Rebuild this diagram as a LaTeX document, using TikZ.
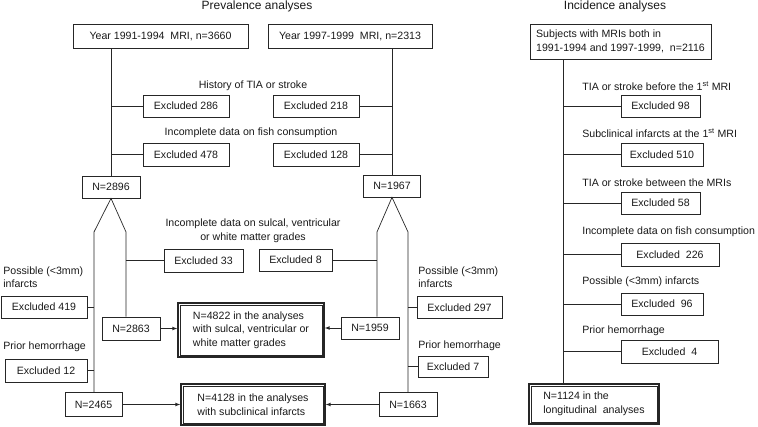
\documentclass[tikz,border=0pt]{standalone}
\usepackage{fontspec}
\setmainfont{Liberation Sans}
\usetikzlibrary{arrows,positioning,calc}

\tikzset{
  txt/.style={font=\fontsize{10.6}{13.5}\selectfont, text=black!90},
  box/.style={txt, draw=black!85, line width=0.7pt, minimum height=22, inner sep=2pt},
  final/.style={txt, draw=black!85, line width=1.4pt, align=left, inner sep=2pt},
  lbl/.style={txt, inner sep=0pt, align=left, anchor=west},
}

\begin{document}
\begin{tikzpicture}[x=1pt, y=-1pt, line width=0.7pt, draw=black!85, >=latex]
    % the canvas
    \useasboundingbox (0,0) rectangle (758,427);

    % titles
    \node[txt, font=\fontsize{12}{14}\selectfont] (tprev) at (257,6) {Prevalence analyses};
    \node[txt, font=\fontsize{12}{14}\selectfont] (tinc)  at (615,6) {Incidence analyses};

    % start boxes
    \node[box, minimum width=175, minimum height=24] (y1991) at (160.5,36) {Year 1991-1994\ \ MRI, n=3660};
    \node[box, minimum width=164, minimum height=24] (y1997) at (350,36) {Year 1997-1999\ \ MRI, n=2313};

    % first exclusions
    \node[txt] (hist) at (253,86) {History of TIA or stroke};
    \node[box, minimum width=86] (ex286) at (186,106) {Excluded 286};
    \node[box, minimum width=86] (ex218) at (316,106) {Excluded 218};
    \node[txt] (fish) at (251,133) {Incomplete data on fish consumption};
    \node[box, minimum width=86, minimum height=23] (ex478) at (186,154.5) {Excluded 478};
    \node[box, minimum width=86, minimum height=23] (ex128) at (316,154.5) {Excluded 128};

    \node[box, minimum width=58] (n2896) at (111,187) {N=2896};
    \node[box, minimum width=57] (n1967) at (392,186) {N=1967};

    % split branches
    \coordinate (la) at (94,232);
    \coordinate (lb) at (126,232);
    \coordinate (ra) at (377,232);
    \coordinate (rb) at (408,232);

    \node[txt, align=center] (sulc) at (253,231) {Incomplete data on sulcal, ventricular\\or white matter grades};
    \node[box, minimum width=79, minimum height=23] (ex33) at (203.5,260.5) {Excluded 33};
    \node[box, minimum width=73] (ex8) at (295.5,260) {Excluded 8};

    \node[lbl] (possl) at (3,277) {Possible (<3mm)\\infarcts};
    \node[box, minimum width=86] (ex419) at (44,307) {Excluded 419};
    \node[lbl] (possr) at (418,277) {Possible (<3mm)\\infarcts};
    \node[box, minimum width=85] (ex297) at (459.5,307.5) {Excluded 297};

    \node[box, minimum width=58, minimum height=23] (n2863) at (131,328.5) {N=2863};
    \node[box, minimum width=58] (n1959) at (370,328) {N=1959};
    \node[final, minimum width=146, minimum height=54] (big4822) at (251,330)
        {N=4822 in the analyses\\with sulcal, ventricular or\\white matter grades};

    \node[lbl] (hemol) at (3,347) {Prior hemorrhage};
    \node[box, minimum width=82, minimum height=23] (ex12) at (46,370.5) {Excluded 12};
    \node[lbl] (hemor) at (418,346) {Prior hemorrhage};
    \node[box, minimum width=70, minimum height=21] (ex7) at (453,366.5) {Excluded 7};

    \node[box, minimum width=57, minimum height=24] (n2465) at (93.5,404.5) {N=2465};
    \node[box, minimum width=58, minimum height=24] (n1663) at (408,404.5) {N=1663};
    \node[final, minimum width=144, minimum height=41] (big4128) at (253,404.5)
        {N=4128 in the analyses\\with subclinical infarcts};

    % prevalence connectors
    \draw (y1991.south -| n2896) -- (n2896.north);
    \draw (ex286.west) -- (ex286.west -| n2896);
    \draw (ex478.west) -- (ex478.west -| n2896);
    \draw (y1997.south -| n1967) -- (n1967.north);
    \draw (ex218.east) -- (ex218.east -| n1967);
    \draw (ex128.east) -- (ex128.east -| n1967);

    \draw (la |- n2465.north) -- (la) -- (n2896.south) -- (lb) -- (lb |- n2863.north);
    \draw (ra |- n1959.north) -- (ra) -- (n1967.south) -- (rb) -- (rb |- n1663.north);

    \draw (ex33.west) -- (ex33.west -| lb);
    \draw (ex8.east) -- (ex8.east -| ra);
    \draw (ex419.east) -- (ex419.east -| la);
    \draw (ex12.east) -- (ex12.east -| la);
    \draw (ex297.west) -- (ex297.west -| rb);
    \draw (ex7.west) -- (ex7.west -| rb);

    % into the analyses
    \draw[->] (n2863.east) -- (n2863.east -| big4822.west);
    \draw[->] (n1959.west) -- (n1959.west -| big4822.east);
    \draw[->] (n2465.east) -- (n2465.east -| big4128.west);
    \draw[->] (n1663.west) -- (n1663.west -| big4128.east);

    % incidence column
    \node[box, align=left, minimum width=181, minimum height=35] (subj) at (620.5,41.5)
        {Subjects with MRIs both in\\1991-1994 and 1997-1999,\ \ n=2116};

    \node[lbl] (ibef) at (582,86) {TIA or stroke before the 1\textsuperscript{st} MRI};
    \node[box, minimum width=79] (ex98) at (660.5,106) {Excluded 98};
    \node[lbl] (isub) at (582,133) {Subclinical infarcts at the 1\textsuperscript{st} MRI};
    \node[box, minimum width=82, minimum height=23] (ex510) at (662,154.5) {Excluded 510};
    \node[lbl] (ibtw) at (582,183) {TIA or stroke between the MRIs};
    \node[box, minimum width=79] (ex58) at (660.5,203) {Excluded 58};
    \node[lbl] (ifish) at (582,232) {Incomplete data on fish consumption};
    \node[box, minimum width=98, minimum height=23] (ex226) at (670,254.5) {Excluded\ \ 226};
    \node[lbl] (iposs) at (582,282) {Possible (<3mm) infarcts};
    \node[box, minimum width=82] (ex96) at (662,304) {Excluded\ \ 96};
    \node[lbl] (ihemo) at (582,331) {Prior hemorrhage};
    \node[box, minimum width=97, minimum height=23] (ex4) at (669.5,351.5) {Excluded\ \ 4};

    \node[final, minimum width=130, minimum height=40] (n1124) at (594,404)
        {N=1124 in the\\longitudinal\ \ analyses};

    \coordinate (itrunk) at (563,0);
    \draw (subj.south -| itrunk) -- (itrunk |- n1124.north);
    \foreach \ex in {ex98,ex510,ex58,ex226,ex96,ex4}
        \draw (\ex.west) -- (\ex.west -| itrunk);

    % inner frame of the result boxes
    \foreach \res in {big4822,big4128,n1124}
        \draw[line width=0.6pt] ([shift={(2.6,2.6)}]\res.north west) rectangle ([shift={(-2.6,-2.6)}]\res.south east);
\end{tikzpicture}
\end{document}
